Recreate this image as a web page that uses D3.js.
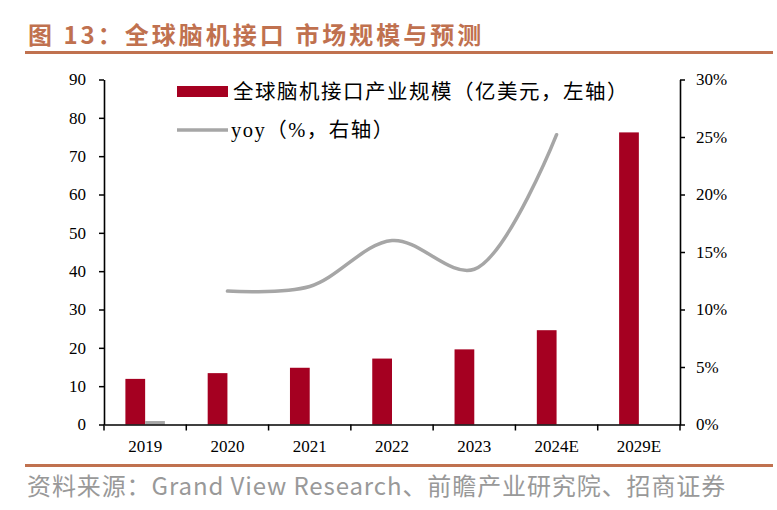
<!DOCTYPE html>
<html><head><meta charset="utf-8">
<script src="https://cdn.jsdelivr.net/npm/d3@7"></script>
<style>
html,body{margin:0;padding:0;background:#fff;}
svg{display:block;}
</style></head>
<body>
<svg id="chart" width="777" height="510"></svg>
<script>
const categories = ["2019","2020","2021","2022","2023","2024E","2029E"];
const marketSize = [11.9, 13.4, 14.8, 17.2, 19.6, 24.6, 76.2];   // 亿美元, left axis
const yoyBar = [0.9, null, null, null, null, null, null];       // stray grey bar (left axis units)
const yoy = [null, 11.6, 12.0, 16.0, 13.5, 25.2, null];           // %, right axis
const leftTicks = [0,10,20,30,40,50,60,70,80,90];
const rightTicks = [0,5,10,15,20,25,30];
const titleText = "图 13：全球脑机接口 市场规模与预测";
const sourceText = "资料来源：Grand View Research、前瞻产业研究院、招商证券";
const legendBar = "全球脑机接口产业规模（亿美元，左轴）";
const legendLine = "yoy（%，右轴）";

const svg = d3.select("#chart");
const m = {left:104, right:680, top:79.5, bottom:424.5};
const red = "#a50021", grey = "#a6a6a6", brown = "#c0714f";
const axisFont = "'Liberation Serif','Times New Roman',serif";

const x = d3.scaleBand().domain(categories).range([m.left, m.right]).padding(0);
const yL = d3.scaleLinear().domain([0,90]).range([m.bottom, m.top]);
const yR = d3.scaleLinear().domain([0,30]).range([m.bottom, m.top]);
const bw = x.bandwidth()*0.24;

// Title
svg.append("text").attr("x",28).attr("y",44)
  .attr("font-family","'Noto Sans CJK SC',sans-serif").attr("font-weight","bold")
  .attr("font-size",24).attr("letter-spacing",3).attr("fill",brown).text(titleText);
svg.append("rect").attr("x",25).attr("y",51).attr("width",748).attr("height",3).attr("fill",brown);

// Bars
svg.append("g").selectAll("rect").data(categories).join("rect")
  .attr("x",d=>x(d)+x.bandwidth()/2-bw)
  .attr("width",bw)
  .attr("y",(d,i)=>yL(marketSize[i]))
  .attr("height",(d,i)=>yL(0)-yL(marketSize[i]))
  .attr("fill",red);
svg.append("g").selectAll("rect").data(categories.filter((d,i)=>yoyBar[i]!=null)).join("rect")
  .attr("x",d=>x(d)+x.bandwidth()/2)
  .attr("width",bw)
  .attr("y",d=>yL(yoyBar[categories.indexOf(d)]))
  .attr("height",d=>yL(0)-yL(yoyBar[categories.indexOf(d)]))
  .attr("fill",grey);

// Line
const pts = categories.map((c,i)=>({c, v:yoy[i]})).filter(p=>p.v!=null);
svg.append("path").datum(pts)
  .attr("d", d3.line().x(p=>x(p.c)+x.bandwidth()/2).y(p=>yR(p.v)).curve(d3.curveCatmullRom.alpha(0.5)))
  .attr("fill","none").attr("stroke",grey).attr("stroke-width",3.5).attr("stroke-linecap","round");

// Axes
const gL = svg.append("g").attr("transform",`translate(${m.left},0)`)
  .call(d3.axisLeft(yL).tickValues(leftTicks).tickSize(5).tickPadding(13).tickSizeOuter(0));
const gR = svg.append("g").attr("transform",`translate(${m.right},0)`)
  .call(d3.axisRight(yR).tickValues(rightTicks).tickSize(5).tickPadding(11).tickSizeOuter(0)
    .tickFormat(d=>d+"%"));
const gB = svg.append("g").attr("transform",`translate(0,${m.bottom})`)
  .call(d3.axisBottom(x).tickSize(0).tickPadding(15).tickSizeOuter(0));
// boundary ticks on x axis
gB.append("g").selectAll("line").data(categories.map(c=>x(c)).concat([x.range()[1]])).join("line")
  .attr("x1",d=>d).attr("x2",d=>d).attr("y1",0).attr("y2",6).attr("stroke","#000").attr("stroke-width",1.5);

[gL,gR,gB].forEach(g=>{
  g.selectAll("path").attr("stroke","#000").attr("stroke-width",1.6);
  g.selectAll(".tick line").attr("stroke","#000").attr("stroke-width",1.5);
  g.selectAll("text").attr("font-family",axisFont).attr("font-size",17).attr("fill","#000");
});

// Legend
const lg = svg.append("g").attr("font-family","'Liberation Serif','Noto Sans CJK SC',serif");
lg.append("rect").attr("x",177).attr("y",86).attr("width",51).attr("height",11).attr("fill",red);
lg.append("text").attr("x",233).attr("y",99).attr("font-size",20.5).attr("letter-spacing",1.5)
  .attr("fill","#000").text(legendBar);
lg.append("line").attr("x1",177).attr("x2",228).attr("y1",130).attr("y2",130)
  .attr("stroke",grey).attr("stroke-width",3.5);
lg.append("text").attr("x",231).attr("y",137).attr("font-size",20.5).attr("letter-spacing",1.5)
  .attr("fill","#000").text(legendLine);

// Source
svg.append("rect").attr("x",25).attr("y",464).attr("width",748).attr("height",3).attr("fill",brown);
svg.append("text").attr("x",27).attr("y",495)
  .attr("font-family","'Liberation Sans Narrow','Noto Sans CJK SC',sans-serif")
  .attr("font-size",24).attr("letter-spacing",0.9).attr("fill","#999").text(sourceText);
</script>
</body></html>
